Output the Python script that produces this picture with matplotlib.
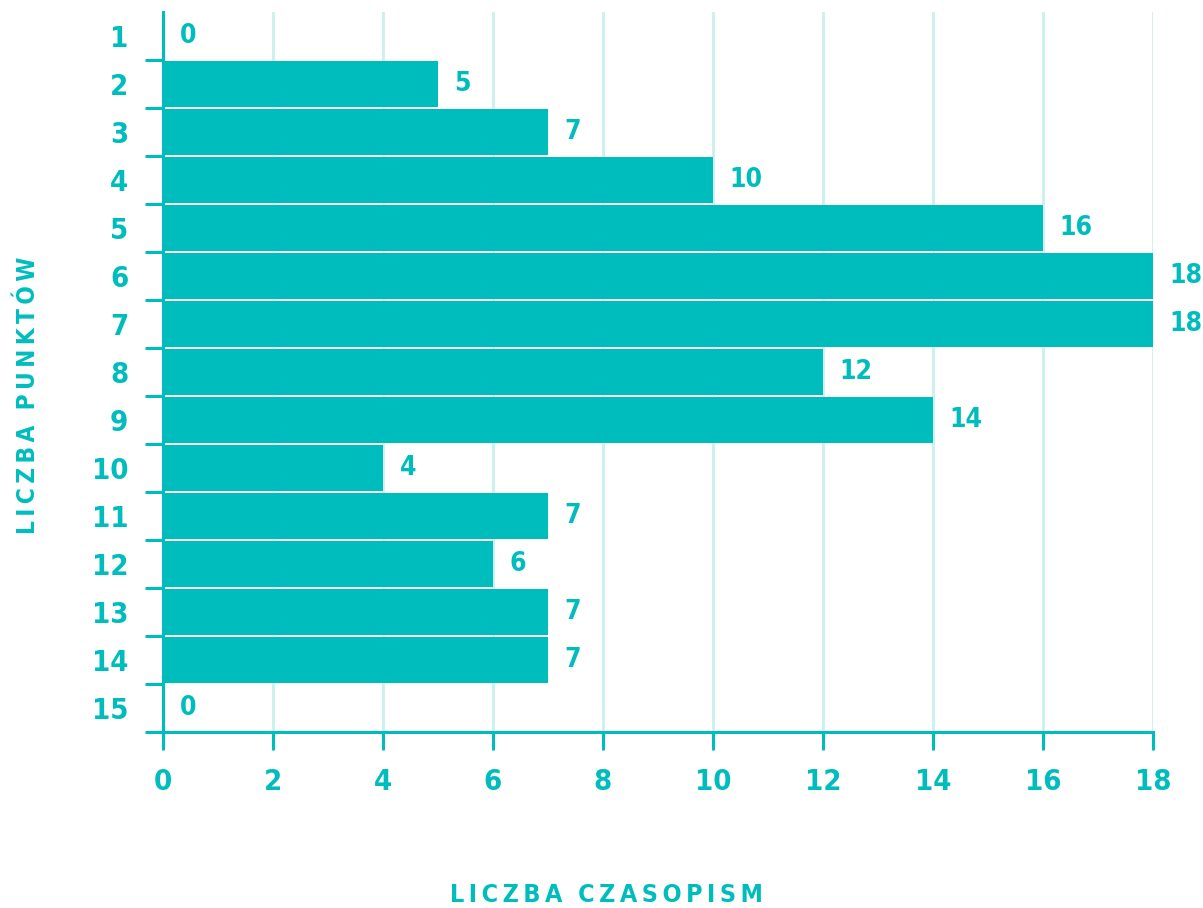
import matplotlib
matplotlib.use('Agg')
import matplotlib.pyplot as plt
from matplotlib import font_manager

# szukamy pogrubionej, zwężonej czcionki
kandydaci = []
for f in font_manager.fontManager.ttflist:
    if ('Condensed' in f.name or 'Narrow' in f.name or f.stretch in ('condensed', 'semi-condensed')) \
            and f.weight in (700, 'bold'):
        kandydaci.append((f.name, f.fname, f.stretch))

if kandydaci:
    fp = font_manager.FontProperties(fname=kandydaci[0][1])
else:
    fp = font_manager.FontProperties(family='DejaVu Sans', weight='bold')

punkty = ['1', '2', '3', '4', '5', '6', '7', '8', '9', '10', '11', '12', '13', '14', '15']
czasopisma = [0, 5, 7, 10, 16, 18, 18, 12, 14, 4, 7, 6, 7, 7, 0]
x_ticks = [0, 2, 4, 6, 8, 10, 12, 14, 16, 18]

kolor = '#00BDBD'
siatka = '#CCEFEF'

fig = plt.figure(figsize=(12.03, 9.08), dpi=100)
ax = fig.add_axes([0.1355, 0.1938, 0.8229, 0.793])

pos = list(range(1, len(punkty) + 1))
ax.barh(pos, czasopisma, height=0.94, color=kolor, zorder=2)
for p, v in zip(pos, czasopisma):
    ax.text(v + 0.3, p, str(v), ha='left', va='center', color=kolor,
            fontproperties=fp, fontsize=19, zorder=3, clip_on=False)

ax.set_xlim(0, 18)
ax.set_ylim(15.5, 0.5)
ax.set_xticks(x_ticks)
ax.set_xticklabels([str(x) for x in x_ticks], fontproperties=fp, fontsize=21)
ax.set_yticks(pos)
ax.set_yticklabels(punkty, fontproperties=fp, fontsize=21)
ax.set_yticks([p + 0.5 for p in pos], minor=True)
ax.tick_params(axis='y', which='major', length=0, pad=25, labelcolor=kolor)
ax.tick_params(axis='y', which='minor', length=13, width=2.2, color=kolor)
ax.tick_params(axis='x', which='major', length=13, width=2.2, color=kolor, pad=13,
               labelcolor=kolor)

for x in x_ticks[1:]:
    ax.axvline(x, color=siatka, lw=2, zorder=1)

for s in ['top', 'right']:
    ax.spines[s].set_visible(False)
for s in ['left', 'bottom']:
    ax.spines[s].set_color(kolor)
    ax.spines[s].set_linewidth(2.2)

ts = '\u2009'
fig.text(607 / 1203, 1 - 895 / 908, ts.join('LICZBA') + '  ' + ts.join('CZASOPISM'),
         ha='center', va='center', color=kolor, fontproperties=fp, fontsize=18)
fig.text(28 / 1203, 1 - 395 / 908, ts.join('LICZBA') + '  ' + ts.join('PUNKTÓW'),
         ha='center', va='center', color=kolor, fontproperties=fp, fontsize=17.5, rotation=90)

fig.savefig('out.png', dpi=100)
